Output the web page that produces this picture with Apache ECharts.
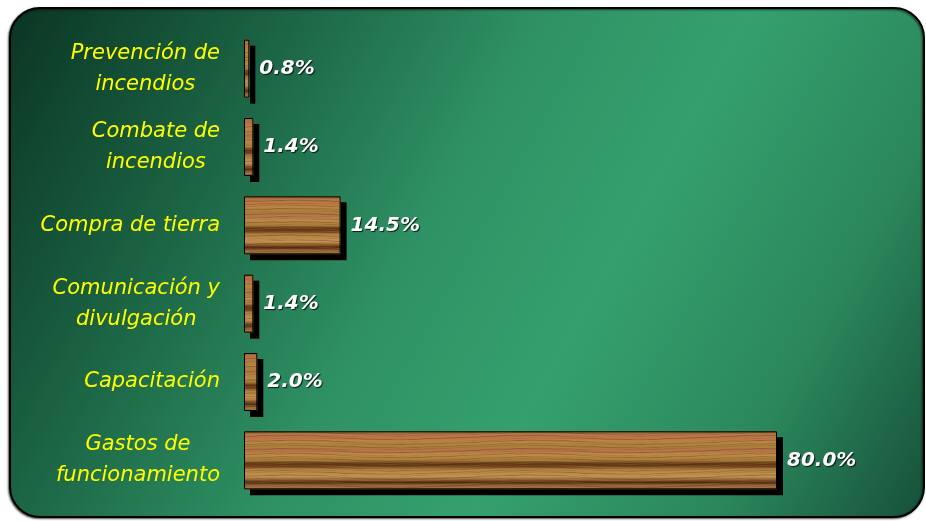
<!DOCTYPE html>
<html>
<head>
<meta charset="utf-8">
<script src="https://cdn.jsdelivr.net/npm/echarts@6/dist/echarts.min.js"></script>
<style>
  html, body { margin: 0; padding: 0; background: #ffffff; }
  #chart { width: 926px; height: 521px; }
</style>
</head>
<body>
<div id="chart"></div>
<script>
// Budget shares by spending line (percent)
const categories = [
  'Prevención de\nincendios',
  'Combate de\nincendios',
  'Compra de tierra',
  'Comunicación y\ndivulgación',
  'Capacitación',
  'Gastos de\nfuncionamiento'
];
const shares = [0.8, 1.4, 14.5, 1.4, 2.0, 80.0];

const chart = echarts.init(document.getElementById('chart'), null, { renderer: 'canvas' });

// Wood base: horizontal bands of tan, reddish and dark brown across the bar height
const wood = new echarts.graphic.LinearGradient(0, 0, 0, 1, [
  { offset: 0.00, color: '#8c5a30' },
  { offset: 0.06, color: '#b07840' },
  { offset: 0.12, color: '#bc6f48' },
  { offset: 0.17, color: '#b5833f' },
  { offset: 0.28, color: '#a97a3a' },
  { offset: 0.34, color: '#b66e46' },
  { offset: 0.40, color: '#b68a45' },
  { offset: 0.50, color: '#a87838' },
  { offset: 0.56, color: '#5a3414' },
  { offset: 0.60, color: '#704018' },
  { offset: 0.66, color: '#b08040' },
  { offset: 0.78, color: '#c09050' },
  { offset: 0.84, color: '#8a5a2a' },
  { offset: 0.88, color: '#4a2810' },
  { offset: 0.92, color: '#8a5a30' },
  { offset: 1.00, color: '#a87a44' }
]);

// Fine grain overlay: thin translucent streaks running along the bar
function makeGrain() {
  const w = 240, h = 48;
  const cv = document.createElement('canvas');
  cv.width = w; cv.height = h;
  const ctx = cv.getContext('2d');
  const img = ctx.createImageData(w, h);
  for (let y = 0; y < h; y++) {
    for (let x = 0; x < w; x++) {
      const t = Math.sin(y * 1.9 + Math.sin(x * 0.031) * 2.2) * Math.sin(y * 0.47 + x * 0.011)
              + 0.5 * Math.sin(x * 0.21 + y * 3.1) * Math.sin(x * 0.047);
      const i = (y * w + x) * 4;
      if (t > 0) {
        img.data[i] = 70; img.data[i + 1] = 36; img.data[i + 2] = 12;
        img.data[i + 3] = Math.min(255, t * 60);
      } else {
        img.data[i] = 230; img.data[i + 1] = 180; img.data[i + 2] = 110;
        img.data[i + 3] = Math.min(255, -t * 35);
      }
    }
  }
  ctx.putImageData(img, 0, 0);
  return cv;
}
const grain = { image: makeGrain(), repeat: 'repeat' };

const labelStyle = {
  show: true,
  position: 'right',
  distance: 10,
  formatter: function (p) { return p.value.toFixed(1) + '%'; },
  color: '#ffffff',
  fontFamily: 'DejaVu Sans',
  fontWeight: 'bold',
  fontStyle: 'italic',
  fontSize: 20,
  textShadowColor: 'rgba(0,0,0,0.8)',
  textShadowBlur: 1,
  textShadowOffsetX: 1,
  textShadowOffsetY: 1
};

const option = {
  animation: false,
  graphic: [
    {
      type: 'rect',
      z: -10,
      shape: { x: 10, y: 8, width: 914, height: 509, r: 30 },
      style: {
        fill: new echarts.graphic.LinearGradient(0, 0, 1, 1, [
          { offset: 0.00, color: '#0b3524' },
          { offset: 0.22, color: '#1a6142' },
          { offset: 0.45, color: '#2f9264' },
          { offset: 0.62, color: '#35a06e' },
          { offset: 0.82, color: '#2b885c' },
          { offset: 1.00, color: '#16503a' }
        ]),
        stroke: '#000000',
        lineWidth: 2,
        shadowColor: 'rgba(0,0,0,0.6)',
        shadowBlur: 2,
        shadowOffsetX: -1,
        shadowOffsetY: 1
      }
    }
  ],
  grid: { left: 244, top: 29.5, width: 666.25, height: 470 },
  xAxis: {
    type: 'value',
    min: 0,
    max: 100,
    show: false
  },
  yAxis: {
    type: 'category',
    inverse: true,
    data: categories,
    axisLine: { show: false },
    axisTick: { show: false },
    splitLine: { show: false },
    axisLabel: {
      margin: 24,
      align: 'right',
      formatter: function (v) {
        return v.split('\n').map(function (s) { return '{c|' + s + '}'; }).join('\n');
      },
      rich: {
        c: {
          align: 'center',
          color: '#ffff00',
          fontFamily: 'DejaVu Sans',
          fontStyle: 'italic',
          fontSize: 21,
          lineHeight: 31
        }
      }
    }
  },
  series: [
    {
      // wood body with its drop shadow
      type: 'bar',
      data: shares,
      barWidth: 58,
      itemStyle: {
        color: wood,
        shadowColor: '#000000',
        shadowBlur: 0,
        shadowOffsetX: 6,
        shadowOffsetY: 6
      }
    },
    {
      // grain overlay and outline on top of the same bars
      type: 'bar',
      data: shares,
      barWidth: 58,
      barGap: '-100%',
      itemStyle: {
        color: grain,
        borderColor: '#000000',
        borderWidth: 1
      },
      label: labelStyle
    }
  ]
};

chart.setOption(option);
</script>
</body>
</html>
